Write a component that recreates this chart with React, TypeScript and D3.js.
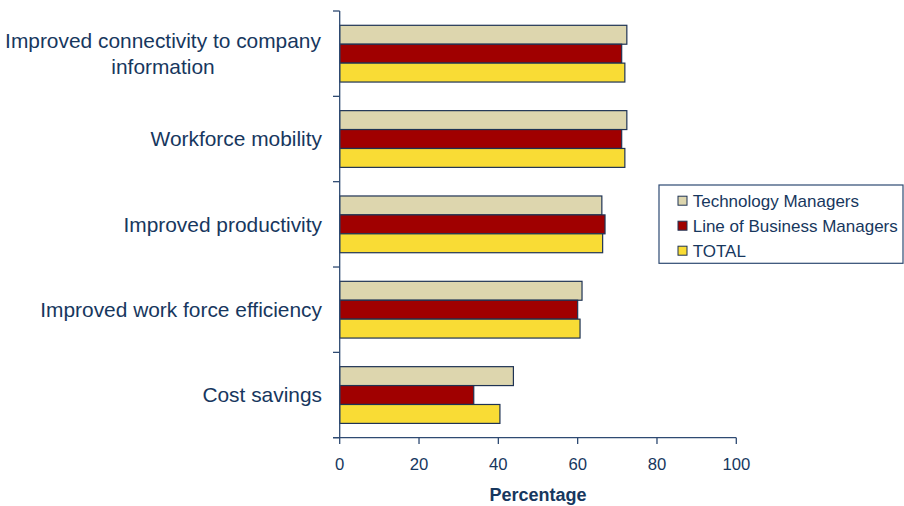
import React from "react";
import * as d3 from "d3";

const categories = [
  ["Improved connectivity to company", "information"],
  ["Workforce mobility"],
  ["Improved productivity"],
  ["Improved work force efficiency"],
  ["Cost savings"],
];
const seriesNames = ["Technology Managers", "Line of Business Managers", "TOTAL"];
const techValues = [72.4, 72.4, 66.1, 61.1, 43.8];
const lobValues = [71.1, 71.1, 66.9, 60.0, 33.8];
const totalValues = [71.9, 71.9, 66.3, 60.6, 40.4];
const xTicks = [0, 20, 40, 60, 80, 100];
const seriesColors = ["#DDD6AE", "#A00000", "#F9DC35"];

const W = 904;
const H = 506;
const TEXT = "#17375E";
const AXIS = "#2E4A72";
const FONT = "'Liberation Sans', Arial, sans-serif";

export default function App() {
  const keys = categories.map((c) => c.join(" "));
  const x = d3.scaleLinear().domain([0, 100]).range([339.7, 736.3]);
  const y = d3.scaleBand<string>().domain(keys).range([11, 437.7]).padding(0);
  const bw = y.bandwidth();
  const inner = d3.scaleBand<number>().domain([0, 1, 2]).range([14.3, bw - 14.3]).padding(0);
  const series = [techValues, lobValues, totalValues];
  const x0 = x(0);
  const axisY = 437.7;
  const boundaries = [...keys.map((k) => y(k) as number), axisY];

  return (
    <svg width={W} height={H} style={{ position: "absolute", left: 0, top: 0, background: "#fff" }} fontFamily={FONT}>
      {/* bars */}
      {keys.map((k, i) => (
        <g key={k}>
          {series.map((vals, s) => (
            <rect
              key={s}
              x={x0}
              y={(y(k) as number) + (inner(s) as number)}
              width={x(vals[i]) - x0}
              height={inner.bandwidth()}
              fill={seriesColors[s]}
              stroke="#1F3354"
              strokeWidth={1.2}
            />
          ))}
        </g>
      ))}
      {/* y axis */}
      <line x1={x0} x2={x0} y1={11} y2={axisY} stroke={AXIS} strokeWidth={1.3} />
      {boundaries.map((b, i) => (
        <line key={i} x1={333} x2={x0} y1={b} y2={b} stroke={AXIS} strokeWidth={1.3} />
      ))}
      {/* x axis */}
      <line x1={333} x2={x(100)} y1={axisY} y2={axisY} stroke={AXIS} strokeWidth={1.3} />
      {xTicks.map((t) => (
        <g key={t}>
          <line x1={x(t)} x2={x(t)} y1={axisY} y2={444} stroke={AXIS} strokeWidth={1.3} />
          <text x={x(t)} y={469.5} textAnchor="middle" fontSize={16.7} fill={TEXT}>
            {t}
          </text>
        </g>
      ))}
      <text x={x(50)} y={501} textAnchor="middle" fontSize={18} fontWeight="bold" fill={TEXT}>
        Percentage
      </text>
      {/* category labels */}
      {categories.map((lines, i) => {
        const cy = (y(keys[i]) as number) + bw / 2;
        const lh = 25.6;
        const start = cy - ((lines.length - 1) * lh) / 2 + 7.4;
        const multi = lines.length > 1;
        return (
          <text key={i} textAnchor={multi ? "middle" : "end"} fontSize={20.9} fill={TEXT}>
            {lines.map((ln, j) => (
              <tspan key={j} x={multi ? 163 : 322} y={start + j * lh}>
                {ln}
              </tspan>
            ))}
          </text>
        );
      })}
      {/* legend */}
      <rect x={659} y={185} width={244} height={78.3} fill="#fff" stroke={AXIS} strokeWidth={1.2} />
      {seriesNames.map((n, i) => {
        const cy = 200.7 + i * 25;
        return (
          <g key={n}>
            <rect x={678} y={cy - 4.5} width={9} height={9} fill={seriesColors[i]} stroke="#1F3354" strokeWidth={1} />
            <text x={692.7} y={cy + 6} fontSize={17} fill={TEXT}>
              {n}
            </text>
          </g>
        );
      })}
    </svg>
  );
}
